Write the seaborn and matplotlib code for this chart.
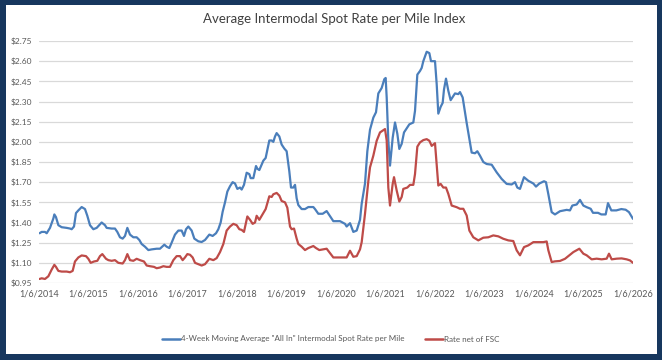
import pandas as pd
import matplotlib.pyplot as plt
import matplotlib.patches as mpatches
import seaborn as sns

# years elapsed since 1/6/2014
blue_t = [0.01, 0.054, 0.121, 0.155, 0.222, 0.29, 0.31, 0.343, 0.391, 0.458, 0.559, 0.626, 0.66, 0.707,
          0.747, 0.795, 0.862, 0.929, 0.976, 1.03, 1.098, 1.165, 1.266, 1.333, 1.367, 1.468, 1.535, 1.582,
          1.636, 1.69, 1.737, 1.785, 1.838, 1.906, 1.973, 2.027, 2.074, 2.141, 2.209, 2.276, 2.377, 2.444,
          2.532, 2.579, 2.633, 2.68, 2.747, 2.815, 2.882, 2.929, 2.97, 3.017, 3.084, 3.138, 3.219, 3.286,
          3.354, 3.441, 3.508, 3.576, 3.623, 3.67, 3.71, 3.758, 3.805, 3.859, 3.912, 3.96, 4.007, 4.061,
          4.094, 4.141, 4.195, 4.249, 4.276, 4.33, 4.384, 4.411, 4.451, 4.532, 4.579, 4.653, 4.7, 4.734,
          4.768, 4.801, 4.855, 4.902, 4.956, 5.003, 5.057, 5.091, 5.138, 5.172, 5.205, 5.239, 5.306, 5.374,
          5.441, 5.542, 5.576, 5.643, 5.731, 5.811, 5.946, 6.081, 6.182, 6.215, 6.283, 6.35, 6.418, 6.485,
          6.519, 6.586, 6.633, 6.687, 6.754, 6.808, 6.855, 6.922, 6.976, 7.003, 7.024, 7.057, 7.091, 7.145,
          7.192, 7.239, 7.279, 7.327, 7.374, 7.441, 7.481, 7.562, 7.596, 7.643, 7.697, 7.731, 7.764, 7.832,
          7.886, 7.919, 8.0, 8.034, 8.067, 8.114, 8.155, 8.182, 8.222, 8.269, 8.316, 8.37, 8.404, 8.471,
          8.505, 8.559, 8.64, 8.741, 8.808, 8.855, 8.909, 8.976, 9.044, 9.145, 9.246, 9.347, 9.448, 9.549,
          9.616, 9.663, 9.717, 9.798, 9.886, 9.987, 10.04, 10.108, 10.202, 10.242, 10.29, 10.357, 10.424,
          10.525, 10.66, 10.727, 10.774, 10.862, 10.929, 10.997, 11.064, 11.145, 11.192, 11.293, 11.36,
          11.448, 11.495, 11.562, 11.663, 11.764, 11.852, 11.919, 12.0]
blue_v = [1.32, 1.33, 1.33, 1.32, 1.36, 1.43, 1.46, 1.44, 1.38, 1.365, 1.36, 1.355, 1.35, 1.37,
          1.47, 1.49, 1.515, 1.50, 1.45, 1.38, 1.35, 1.36, 1.40, 1.38, 1.36, 1.355, 1.355, 1.33,
          1.29, 1.28, 1.30, 1.36, 1.31, 1.29, 1.29, 1.27, 1.24, 1.22, 1.195, 1.20, 1.205, 1.205,
          1.235, 1.22, 1.21, 1.25, 1.31, 1.34, 1.34, 1.30, 1.35, 1.37, 1.34, 1.28, 1.26, 1.255,
          1.27, 1.31, 1.30, 1.32, 1.35, 1.40, 1.48, 1.55, 1.63, 1.67, 1.70, 1.69, 1.65, 1.66,
          1.645, 1.68, 1.77, 1.76, 1.73, 1.73, 1.82, 1.80, 1.79, 1.86, 1.88, 2.01, 2.01, 2.00,
          2.04, 2.065, 2.04, 1.98, 1.95, 1.93, 1.78, 1.66, 1.66, 1.68, 1.58, 1.53, 1.50, 1.50,
          1.515, 1.515, 1.50, 1.465, 1.465, 1.485, 1.41, 1.41, 1.39, 1.37, 1.395, 1.33, 1.34, 1.42,
          1.54, 1.69, 1.93, 2.09, 2.18, 2.22, 2.36, 2.40, 2.466, 2.475, 2.33, 2.01, 1.823, 2.03,
          2.144, 2.06, 1.947, 1.985, 2.07, 2.107, 2.13, 2.144, 2.23, 2.50, 2.527, 2.55, 2.60, 2.67,
          2.66, 2.60, 2.60, 2.43, 2.21, 2.26, 2.29, 2.39, 2.47, 2.38, 2.31, 2.34, 2.36, 2.355,
          2.37, 2.33, 2.14, 1.92, 1.915, 1.93, 1.897, 1.85, 1.835, 1.83, 1.773, 1.724, 1.687, 1.683,
          1.70, 1.66, 1.65, 1.737, 1.71, 1.69, 1.667, 1.69, 1.707, 1.70, 1.61, 1.477, 1.46,
          1.484, 1.494, 1.49, 1.526, 1.534, 1.568, 1.526, 1.514, 1.502, 1.472, 1.472, 1.46,
          1.46, 1.544, 1.49, 1.49, 1.50, 1.495, 1.477, 1.427]

red_t = [0.01, 0.054, 0.121, 0.189, 0.256, 0.31, 0.343, 0.391, 0.458, 0.559, 0.626, 0.68, 0.727,
         0.795, 0.862, 0.949, 0.997, 1.044, 1.111, 1.178, 1.232, 1.279, 1.354, 1.401, 1.468, 1.535,
         1.603, 1.69, 1.737, 1.785, 1.838, 1.906, 1.973, 2.04, 2.121, 2.175, 2.242, 2.323, 2.377,
         2.444, 2.512, 2.579, 2.646, 2.714, 2.781, 2.848, 2.902, 2.949, 2.997, 3.051, 3.104, 3.152,
         3.219, 3.286, 3.354, 3.441, 3.522, 3.589, 3.657, 3.724, 3.791, 3.859, 3.926, 3.993, 4.047,
         4.094, 4.141, 4.209, 4.263, 4.316, 4.364, 4.397, 4.451, 4.532, 4.579, 4.653, 4.7, 4.734,
         4.801, 4.855, 4.902, 4.97, 5.017, 5.071, 5.104, 5.152, 5.205, 5.239, 5.306, 5.374, 5.441,
         5.542, 5.596, 5.663, 5.811, 5.946, 6.081, 6.215, 6.283, 6.35, 6.418, 6.485, 6.519, 6.586,
         6.654, 6.687, 6.754, 6.822, 6.889, 6.99, 7.024, 7.057, 7.091, 7.145, 7.172, 7.226, 7.279,
         7.327, 7.36, 7.441, 7.495, 7.562, 7.596, 7.643, 7.697, 7.764, 7.832, 7.886, 7.933, 8.0,
         8.034, 8.067, 8.114, 8.168, 8.222, 8.269, 8.337, 8.438, 8.505, 8.572, 8.64, 8.694, 8.774,
         8.875, 8.976, 9.077, 9.178, 9.279, 9.38, 9.481, 9.582, 9.65, 9.717, 9.798, 9.886, 9.987,
         10.088, 10.189, 10.256, 10.29, 10.357, 10.424, 10.525, 10.626, 10.714, 10.795, 10.916,
         10.997, 11.064, 11.165, 11.266, 11.367, 11.468, 11.515, 11.569, 11.67, 11.771, 11.872,
         11.939, 12.0]
red_v = [0.98, 0.985, 0.98, 1.00, 1.05, 1.085, 1.07, 1.04, 1.035, 1.035, 1.03, 1.04, 1.11,
         1.14, 1.155, 1.15, 1.13, 1.10, 1.11, 1.115, 1.15, 1.165, 1.13, 1.12, 1.115, 1.12,
         1.10, 1.095, 1.12, 1.165, 1.12, 1.115, 1.13, 1.12, 1.11, 1.08, 1.075, 1.07, 1.06,
         1.065, 1.075, 1.07, 1.07, 1.12, 1.15, 1.15, 1.12, 1.14, 1.165, 1.16, 1.14, 1.10,
         1.09, 1.08, 1.09, 1.13, 1.12, 1.135, 1.18, 1.24, 1.34, 1.37, 1.39, 1.38, 1.35,
         1.345, 1.33, 1.445, 1.42, 1.39, 1.40, 1.45, 1.42, 1.47, 1.50, 1.595, 1.59, 1.61,
         1.62, 1.60, 1.56, 1.55, 1.51, 1.37, 1.35, 1.355, 1.28, 1.24, 1.22, 1.195, 1.21,
         1.225, 1.21, 1.195, 1.205, 1.14, 1.14, 1.14, 1.19, 1.145, 1.15, 1.20, 1.254, 1.465,
         1.71, 1.81, 1.897, 2.008, 2.07, 2.095, 2.01, 1.66, 1.526, 1.687, 1.737, 1.638, 1.556,
         1.59, 1.65, 1.66, 1.68, 1.68, 1.76, 1.964, 1.996, 2.013, 2.02, 2.008, 1.97, 1.99,
         1.835, 1.675, 1.687, 1.66, 1.66, 1.613, 1.526, 1.514, 1.502, 1.502, 1.452, 1.34, 1.29,
         1.267, 1.287, 1.29, 1.304, 1.297, 1.279, 1.267, 1.262, 1.193, 1.156, 1.217, 1.23, 1.254,
         1.254, 1.254, 1.259, 1.193, 1.106, 1.111, 1.114, 1.13, 1.156, 1.18, 1.205,
         1.168, 1.156, 1.126, 1.131, 1.126, 1.131, 1.168, 1.126, 1.131, 1.133, 1.126,
         1.118, 1.10]

series_names = ['4-Week Moving Average "All In" Intermodal Spot Rate per Mile', 'Rate net of FSC']
year_labels = [f"1/6/{y}" for y in range(2014, 2027)]
y_ticks = [0.95, 1.10, 1.25, 1.40, 1.55, 1.70, 1.85, 2.00, 2.15, 2.30, 2.45, 2.60, 2.75]

df = pd.concat([
    pd.DataFrame({"t": blue_t, "rate": blue_v, "series": series_names[0]}),
    pd.DataFrame({"t": red_t, "rate": red_v, "series": series_names[1]}),
])

sns.set_style("white")
plt.rcParams['font.family'] = ['Lato', 'DejaVu Sans']

fig = plt.figure(figsize=(6.62, 3.6), dpi=100)
fig.patch.set_facecolor("#17375e")
fig.patches.append(mpatches.Rectangle((6 / 662, 1 - 354 / 360), 651 / 662, 349 / 360,
                                      transform=fig.transFigure, facecolor="white",
                                      edgecolor="none", zorder=-10))

ax = fig.add_axes([39 / 662, 1 - 283 / 360, 594 / 662, 242 / 360])
ax.set_facecolor("none")
sns.lineplot(data=df, x="t", y="rate", hue="series", palette=["#4a7ebb", "#be4b48"],
             linewidth=1.6, ax=ax, legend=False, sort=False)

ax.set_xlim(0, 12)
ax.set_ylim(0.95, 2.75)
ax.set_yticks(y_ticks)
ax.set_yticklabels([f"${v:.2f}" for v in y_ticks], fontsize=6, color="#595959")
ax.set_xticks(range(13))
ax.set_xticklabels(year_labels, fontsize=6.5, color="#595959")
ax.tick_params(length=0, pad=5)
ax.yaxis.grid(True, color="#d9d9d9", linewidth=0.9)
ax.set_axisbelow(True)
for s in ax.spines.values():
    s.set_visible(False)
ax.set_xlabel("")
ax.set_ylabel("")

fig.text(0.505, 1 - 19 / 360, "Average Intermodal Spot Rate per Mile Index",
         ha="center", va="center", fontsize=9.5, color="#404040")

handles = [plt.Line2D([], [], color="#4a7ebb", lw=1.8), plt.Line2D([], [], color="#be4b48", lw=1.8)]
fig.legend(handles, series_names, loc="center", bbox_to_anchor=(0.5, 1 - 339 / 360), ncol=2,
           frameon=False, fontsize=5.8, handlelength=2.2, handletextpad=0.2, columnspacing=2.5,
           labelcolor="#595959")

fig.savefig("out.png", dpi=100, facecolor=fig.get_facecolor())
